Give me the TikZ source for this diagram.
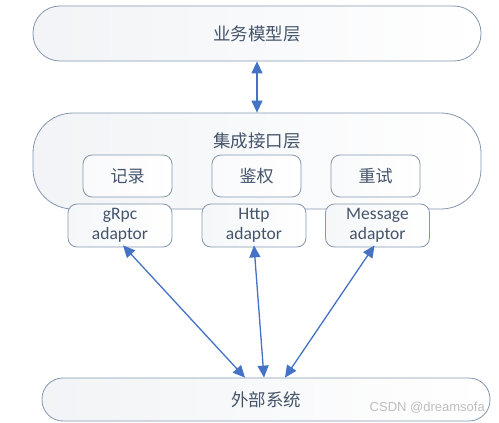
\documentclass[tikz,border=0pt]{standalone}
\usepackage{fontspec}
\setmainfont{Carlito}
\newfontfamily\cjk{Noto Sans CJK SC}
\newfontfamily\markfont{Liberation Sans}
\usetikzlibrary{arrows.meta}
\definecolor{edge}{HTML}{8497B0}
\definecolor{ink}{HTML}{44546A}
\definecolor{arrowblue}{HTML}{4472C4}
\begin{document}
\begin{tikzpicture}[x=1pt,y=-1pt,every node/.style={text=ink},
  layer/.style={draw=edge,line width=0.8pt,left color=edge!11,right color=white,minimum width=448pt,inner sep=0pt},
  func/.style={draw=edge,line width=0.8pt,left color=edge!5,right color=white,rounded corners=9pt,minimum width=89pt,minimum height=42pt,font=\cjk\fontsize{17}{19}\selectfont},
  adapt/.style={draw=edge,line width=0.8pt,left color=edge!8,right color=white,rounded corners=9pt,minimum width=104pt,minimum height=43pt,align=center,font=\fontsize{17.5}{19.5}\selectfont,inner sep=0pt},
  link/.style={{Triangle[width=11pt,length=12pt]}-{Triangle[width=11pt,length=12pt]},draw=arrowblue,fill=arrowblue,line width=1.3pt}]
\useasboundingbox (0,0) rectangle (499,423);
% layers
\node[layer,rounded corners=27pt,minimum height=55pt,font=\cjk\fontsize{17.5}{19}\selectfont] (biz) at (257,33.5) {业务模型层};
\node[layer,rounded corners=40pt,minimum height=96pt] (integ) at (257,161) {};
\node[font=\cjk\fontsize{17.5}{19}\selectfont] (integlabel) at (257,141) {集成接口层};
\node[layer,rounded corners=21pt,minimum height=43pt,font=\cjk\fontsize{17.5}{19}\selectfont] (ext) at (266,399.5) {外部系统};
% functions
\node[func] (log) at (127.5,176) {记录};
\node[func] (auth) at (256.5,176) {鉴权};
\node[func] (retry) at (375.5,176) {重试};
% adaptors
\node[adapt] (grpc) at (120,225.5) {gRpc\\adaptor};
\node[adapt] (http) at (254,225.5) {Http\\adaptor};
\node[adapt] (msg) at (377.5,225.5) {Message\\adaptor};
% connectors
\draw[link] (biz.south) -- (integ.north);
\draw[link] ([xshift=3pt,yshift=2pt]grpc.south) -- ([xshift=-21pt]ext.north);
\draw[link] ([yshift=2pt]http.south) -- ([xshift=-2pt]ext.north);
\draw[link] ([xshift=-3pt,yshift=2pt]msg.south) -- ([xshift=19pt]ext.north);
\node[text=gray!50,font=\markfont\fontsize{13}{14}\selectfont,anchor=east,inner sep=0pt] (mark) at (485,408) {CSDN @dreamsofa};
\end{tikzpicture}
\end{document}
